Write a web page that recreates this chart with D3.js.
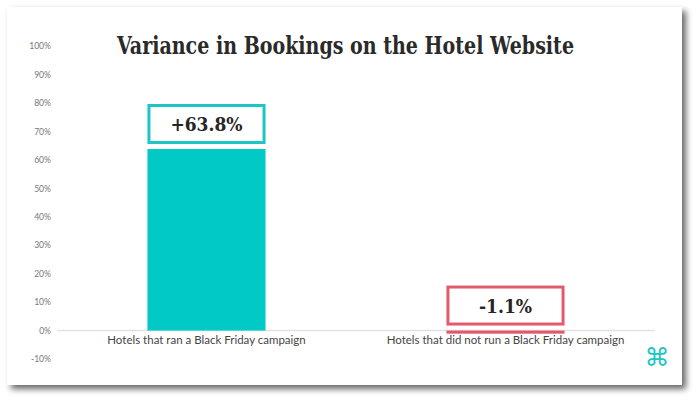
<!DOCTYPE html>
<html>
<head>
<meta charset="utf-8">
<script src="https://cdn.jsdelivr.net/npm/d3@7"></script>
<style>
  html, body { margin: 0; padding: 0; background: #ffffff; }
  svg { display: block; }
</style>
</head>
<body>
<svg id="chart" width="700" height="402"></svg>
<script>
// ---- data ----
const title = "Variance in Bookings on the Hotel Website";
const categories = ["Hotels that ran a Black Friday campaign", "Hotels that did not run a Black Friday campaign"];
const values = [63.8, -1.1];
const valueLabels = ["+63.8%", "-1.1%"];
const yTicks = [-10, 0, 10, 20, 30, 40, 50, 60, 70, 80, 90, 100];
const barColors = ["#00C9C6", "#E4576C"];
const boxColors = ["#1CC6C6", "#E35A6E"];

const svg = d3.select("#chart");
const defs = svg.append("defs");
const f = defs.append("filter").attr("id", "shadow").attr("x", "-10%").attr("y", "-10%").attr("width", "120%").attr("height", "125%");
f.append("feDropShadow").attr("dx", 4).attr("dy", 4).attr("stdDeviation", 3).attr("flood-color", "#000").attr("flood-opacity", 0.6);

// card
svg.append("rect").attr("x", 7).attr("y", 7).attr("width", 675).attr("height", 378)
  .attr("fill", "#ffffff").attr("filter", "url(#shadow)");

const x = d3.scaleBand().domain(categories).range([57, 655]).paddingInner(0.605).paddingOuter(0.3025);
const y = d3.scaleLinear().domain([-10, 100]).range([359, 46]);

// y tick labels
const yAxis = d3.axisLeft(y).tickValues(yTicks).tickFormat(d => d + "%").tickSize(0).tickPadding(0);
const ya = svg.append("g").attr("transform", "translate(51,0)").call(yAxis);
ya.select(".domain").remove();
ya.selectAll("text").attr("font-family", "Lato, sans-serif").attr("font-size", 8.6).attr("fill", "#777777");

// zero line
svg.append("line").attr("x1", 57).attr("x2", 655).attr("y1", y(0)).attr("y2", y(0))
  .attr("stroke", "#e2e2e2").attr("stroke-width", 1.5);

// bars
categories.forEach((c, i) => {
  const v = values[i];
  svg.append("rect")
    .attr("x", x(c)).attr("width", x.bandwidth())
    .attr("y", y(Math.max(0, v))).attr("height", Math.abs(y(v) - y(0)))
    .attr("fill", barColors[i]);
});

// label boxes
categories.forEach((c, i) => {
  const v = values[i];
  const top = y(Math.max(0, v));
  const bottom = top - 6.5;
  const h = 37;
  svg.append("rect")
    .attr("x", x(c) + 1.5).attr("width", x.bandwidth() - 3)
    .attr("y", bottom - h).attr("height", h)
    .attr("fill", "#ffffff").attr("stroke", boxColors[i]).attr("stroke-width", 3);
  svg.append("text")
    .attr("x", x(c) + x.bandwidth() / 2).attr("y", bottom - h / 2 + 7)
    .attr("text-anchor", "middle")
    .attr("font-family", "'DejaVu Serif Condensed', 'DejaVu Serif', serif")
    .attr("font-weight", "bold").attr("font-size", 19).attr("fill", "#262626")
    .text(valueLabels[i]);
});

// category labels
const xAxis = d3.axisBottom(x).tickSize(0).tickPadding(0);
const xa = svg.append("g").attr("transform", "translate(0," + (y(0) + 5.5) + ")").call(xAxis);
xa.select(".domain").remove();
xa.selectAll("text").attr("font-family", "Lato, sans-serif").attr("font-size", 11.5).attr("fill", "#454545");

// title
svg.append("text").attr("x", 345.5).attr("y", 54).attr("text-anchor", "middle")
  .attr("font-family", "'DejaVu Serif Condensed', 'DejaVu Serif', serif")
  .attr("font-weight", "bold").attr("font-size", 23.5).attr("fill", "#2a2a2a")
  .attr("textLength", 457).attr("lengthAdjust", "spacingAndGlyphs")
  .text(title);

// logo
svg.append("text").attr("x", 657).attr("y", 366).attr("text-anchor", "middle")
  .attr("font-family", "'DejaVu Sans', sans-serif").attr("font-size", 25).attr("fill", "#1CC6C2")
  .text("\u2318");
</script>
</body>
</html>
